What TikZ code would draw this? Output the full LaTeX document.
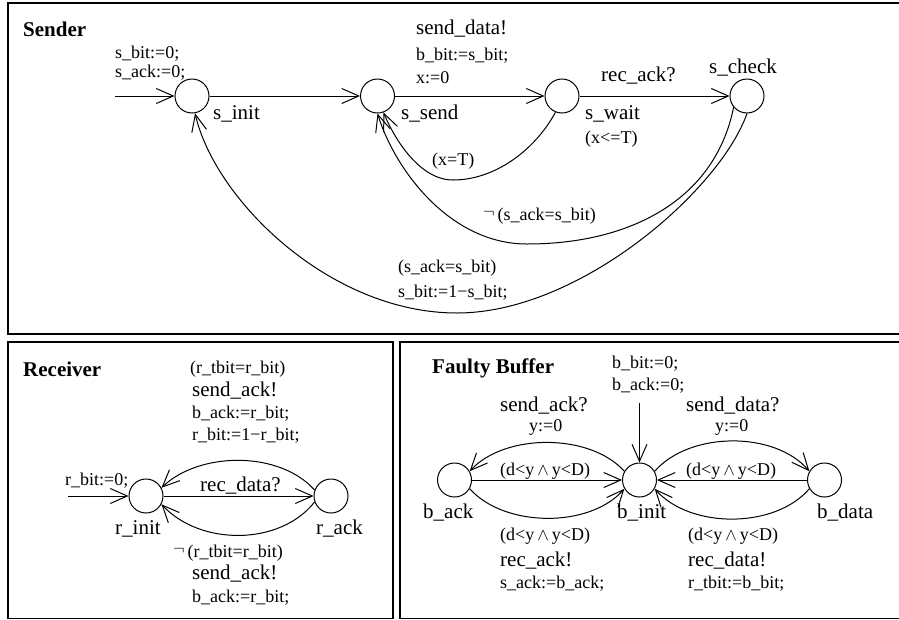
\documentclass[tikz,border=0pt]{standalone}
\usepackage{fontspec}
\setmainfont{Liberation Serif}
\usetikzlibrary{arrows.meta}
\newcommand{\negsym}{\raisebox{3pt}{$\neg$}\,}
\tikzset{
  loc/.style={draw, circle, line width=1pt, minimum size=34pt, inner sep=0pt},
  edge/.style={-{Straight Barb[length=17pt, width=15pt]}, line width=1pt},
  big/.style={font=\fontsize{21}{24}\selectfont, anchor=west, inner sep=0pt},
  sml/.style={font=\fontsize{18}{21}\selectfont, anchor=west, inner sep=0pt},
  ttl/.style={font=\fontsize{21}{24}\selectfont\bfseries, anchor=west, inner sep=0pt},
  panel/.style={draw, line width=1.4pt},
}

\begin{document}
\begin{tikzpicture}[x=1pt, y=-1pt]
  \useasboundingbox (0,0) rectangle (899,619);
  \draw[panel] (8,3) rectangle (906,334);
  \draw[panel] (8,342) rectangle (393,618.5);
  \draw[panel] (400,342) rectangle (906,618.5);

  % Sender
  \node[ttl] (sndT) at (23,29) {Sender};
  \node[loc] (sinit) at (192,96) {};
  \node[loc] (ssend) at (377.5,96) {};
  \node[loc] (swait) at (562,96) {};
  \node[loc] (scheck) at (747,96) {};
  \coordinate (sstart) at (115,96);
  \node[big] (sinitL) at (213,114) {s\_init};
  \node[big] (ssendL) at (401,114) {s\_send};
  \node[big] (swaitL) at (585,114) {s\_wait};
  \node[sml] (swaitI) at (585,139) {(x<=T)};
  \node[big] (scheckL) at (709,68) {s\_check};
  \node[sml] (sinitA) at (115,54) {s\_bit:=0;};
  \node[sml] (sinitB) at (115,73) {s\_ack:=0;};
  \node[big] (sdS) at (416,29) {send\_data!};
  \node[sml] (sdA) at (416,56) {b\_bit:=s\_bit;};
  \node[sml] (sdB) at (416,78) {x:=0};
  \node[big] (raS) at (601,76) {rec\_ack?};
  \node[sml] (toG) at (432,161) {(x=T)};
  \node[sml] (nokG) at (483,216) {\negsym(s\_ack=s\_bit)};
  \node[sml] (okG) at (398,268) {(s\_ack=s\_bit)};
  \node[sml] (okA) at (398,293) {s\_bit:=1−s\_bit;};

  \draw[edge] (sstart) -- (sinit);
  \draw[edge] (sinit) -- (ssend);
  \draw[edge] (ssend) -- (swait);
  \draw[edge] (swait) -- (scheck);
  \draw[edge] (swait.-112) .. controls (535,150) and (495,180) .. (453,180)
    .. controls (420,180) and (395,140) .. (ssend.-70);
  \draw[edge] (scheck.-140) .. controls (715,200) and (630,244) .. (527,244)
    .. controls (450,244) and (395,170) .. (ssend.-90);
  \draw[edge] (scheck.-90) .. controls (720,190) and (580,313) .. (457,313)
    .. controls (330,313) and (215,200) .. (sinit.-80);

  % Receiver
  \node[ttl] (rcvT) at (23,369) {Receiver};
  \node[loc] (rinit) at (146,496) {};
  \node[loc] (rack) at (331,496) {};
  \coordinate (rstart) at (68,496);
  \node[big] (rinitL) at (115,529) {r\_init};
  \node[big] (rackL) at (316,529) {r\_ack};
  \node[sml] (rinitA) at (65,481) {r\_bit:=0;};
  \node[big] (rdS) at (200,486) {rec\_data?};
  \node[sml] (okR) at (190,369) {(r\_tbit=r\_bit)};
  \node[big] (okRS) at (192,391) {send\_ack!};
  \node[sml] (okRA) at (192,414) {b\_ack:=r\_bit;};
  \node[sml] (okRB) at (192,436) {r\_bit:=1−r\_bit;};
  \node[sml] (nokR) at (173,553) {\negsym(r\_tbit=r\_bit)};
  \node[big] (nokRS) at (192,574) {send\_ack!};
  \node[sml] (nokRA) at (192,598) {b\_ack:=r\_bit;};

  \draw[edge] (rstart) -- (rinit);
  \draw[edge] (rinit) -- (rack);
  \draw[edge] (rack.160) .. controls (280,451) and (200,451) .. (rinit.28);
  \draw[edge] (rack.-160) .. controls (280,546) and (200,546) .. (rinit.-28);

  % Faulty buffer
  \node[ttl] (bufT) at (432,368) {Faulty Buffer};
  \node[loc] (back) at (454.5,480) {};
  \node[loc] (binit) at (639.5,480) {};
  \node[loc] (bdata) at (824.5,480) {};
  \coordinate (bstart) at (639.5,403);
  \node[big] (backL) at (423,513) {b\_ack};
  \node[big] (binitL) at (617,513) {b\_init};
  \node[big] (bdataL) at (817,513) {b\_data};
  \node[sml] (binitA) at (612,364) {b\_bit:=0;};
  \node[sml] (binitB) at (612,386) {b\_ack:=0;};
  \node[big] (saS) at (500,406) {send\_ack?};
  \node[sml] (saA) at (529,427) {y:=0};
  \node[big] (sdbS) at (686,406) {send\_data?};
  \node[sml] (sdbA) at (715,427) {y:=0};
  \node[sml] (lossA) at (500,471) {(d<y\,$\wedge$\,y<D)};
  \node[sml] (lossD) at (686,471) {(d<y\,$\wedge$\,y<D)};
  \node[sml] (raG) at (500,536) {(d<y\,$\wedge$\,y<D)};
  \node[big] (raBS) at (500,561) {rec\_ack!};
  \node[sml] (raA) at (500,584) {s\_ack:=b\_ack;};
  \node[sml] (rdG) at (688,536) {(d<y\,$\wedge$\,y<D)};
  \node[big] (rdBS) at (688,561) {rec\_data!};
  \node[sml] (rdA) at (688,584) {r\_tbit:=b\_bit;};

  \draw[edge] (bstart) -- (binit);
  \draw[edge] (binit.150) .. controls (590,433) and (505,433) .. (back.30);
  \draw[edge] (back) -- (binit);
  \draw[edge] (back.-30) .. controls (505,528) and (590,528) .. (binit.-150);
  \draw[edge] (binit.30) .. controls (690,431) and (775,431) .. (bdata.150);
  \draw[edge] (bdata) -- (binit);
  \draw[edge] (bdata.-150) .. controls (775,529) and (690,529) .. (binit.-30);
\end{tikzpicture}
\end{document}
